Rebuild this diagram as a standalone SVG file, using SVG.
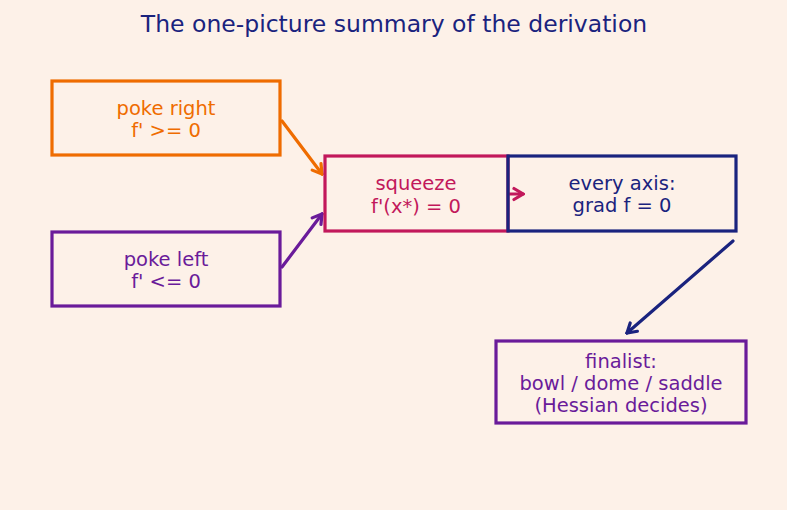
<svg xmlns="http://www.w3.org/2000/svg" width="787" height="510" viewBox="0 0 787 510">
<defs>
<style>
text{font-family:"DejaVu Sans",sans-serif;font-size:19.5px;text-anchor:middle}
.box{fill:none;stroke-width:3.2}
.c{fill:none;stroke-width:3.2;stroke-linecap:round}
.h{fill:none;stroke-width:3.2;stroke-linecap:round;stroke-linejoin:miter}
</style>
<marker id="mo" viewBox="-12 -8 14 16" refX="0" refY="0" markerWidth="14" markerHeight="16" markerUnits="userSpaceOnUse" orient="auto"><path class="h" d="M-9,-5.5 L0,0 L-9,5.5" stroke="#ef6c00"/></marker>
<marker id="mp" viewBox="-12 -8 14 16" refX="0" refY="0" markerWidth="14" markerHeight="16" markerUnits="userSpaceOnUse" orient="auto"><path class="h" d="M-9,-5.5 L0,0 L-9,5.5" stroke="#6a1b9a"/></marker>
<marker id="mc" viewBox="-12 -8 14 16" refX="0" refY="0" markerWidth="14" markerHeight="16" markerUnits="userSpaceOnUse" orient="auto"><path class="h" d="M-9,-5.5 L0,0 L-9,5.5" stroke="#c2185b"/></marker>
<marker id="mn" viewBox="-12 -8 14 16" refX="0" refY="0" markerWidth="14" markerHeight="16" markerUnits="userSpaceOnUse" orient="auto"><path class="h" d="M-9,-5.5 L0,0 L-9,5.5" stroke="#1a237e"/></marker>
</defs>
<rect width="787" height="510" fill="#fdf1e8"/>
<text x="394" y="32" style="font-size:23.5px" fill="#1a237e">The one-picture summary of the derivation</text>
<g id="connectors">
<line class="c" x1="282" y1="121" x2="322" y2="174" stroke="#ef6c00" marker-end="url(#mo)"/>
<line class="c" x1="282" y1="267" x2="322" y2="214" stroke="#6a1b9a" marker-end="url(#mp)"/>
<line class="c" x1="509" y1="194" x2="523" y2="194" stroke="#c2185b" marker-end="url(#mc)"/>
<line class="c" x1="733" y1="241" x2="627" y2="333" stroke="#1a237e" marker-end="url(#mn)"/>
</g>
<g id="poke-right">
<rect class="box" x="52" y="81" width="228" height="74" stroke="#ef6c00"/>
<text x="166" y="115" fill="#ef6c00">poke right</text>
<text x="166" y="137" fill="#ef6c00">f' &gt;= 0</text>
</g>
<g id="poke-left">
<rect class="box" x="52" y="232" width="228" height="74" stroke="#6a1b9a"/>
<text x="166" y="266" fill="#6a1b9a">poke left</text>
<text x="166" y="288" fill="#6a1b9a">f' &lt;= 0</text>
</g>
<g id="squeeze">
<rect class="box" x="325" y="156" width="183" height="75" stroke="#c2185b"/>
<text x="416" y="190" fill="#c2185b">squeeze</text>
<text x="416" y="213" fill="#c2185b">f'(x*) = 0</text>
</g>
<g id="every-axis">
<rect class="box" x="508" y="156" width="228" height="75" stroke="#1a237e"/>
<text x="622" y="190" fill="#1a237e">every axis:</text>
<text x="622" y="212" fill="#1a237e">grad f = 0</text>
</g>
<g id="finalist">
<rect class="box" x="496" y="341" width="250" height="82" stroke="#6a1b9a"/>
<text x="621" y="368" fill="#6a1b9a">finalist:</text>
<text x="621" y="390" fill="#6a1b9a">bowl / dome / saddle</text>
<text x="621" y="412" fill="#6a1b9a">(Hessian decides)</text>
</g>
</svg>
